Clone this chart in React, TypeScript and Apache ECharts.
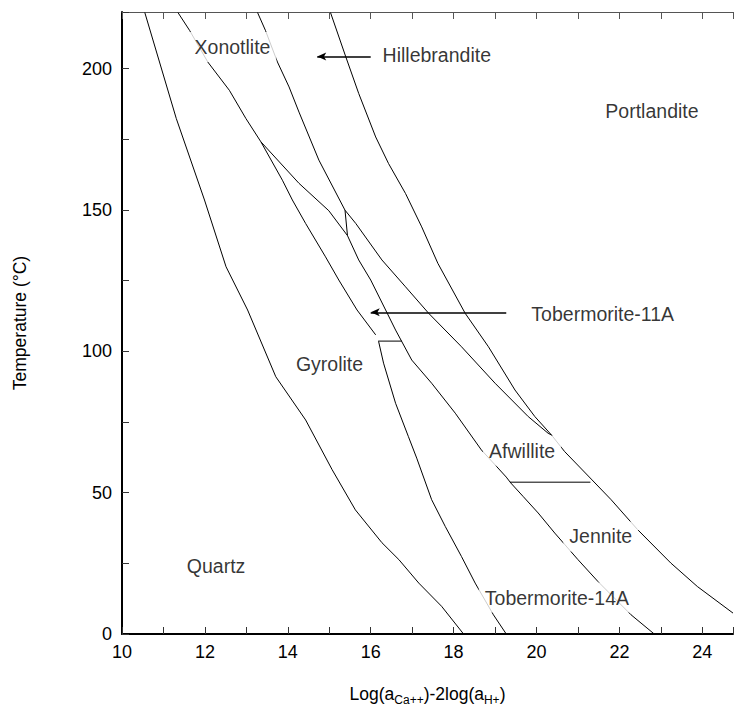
import React, { useEffect, useRef } from 'react';
import * as echarts from 'echarts';

// Axis ranges
const xMin = 10;
const xMax = 24.74;
const yMin = 0;
const yMax = 220;

// Phase boundaries [log(aCa++)-2log(aH+), T °C]
const quartzLine = [
  [10.55, 219.8], [11.31, 182.3], [11.99, 153.5], [12.51, 129.9], [13.03, 114.6],
  [13.71, 91.0], [14.43, 75.7], [15.07, 58.1], [15.63, 43.9], [16.27, 32.3],
  [16.68, 26.3], [17.16, 18.0], [17.71, 9.8], [18.24, 0],
];
const xonotliteGyroliteLine = [
  [11.35, 219.8], [11.63, 213.5], [12.07, 202.3], [12.59, 192.3], [12.99, 182.3],
  [13.35, 174.1], [14.27, 159.4], [14.99, 149.7], [15.44, 140.9],
];
const hillebranditeLine = [
  [13.27, 219.8], [13.46, 213.5], [13.75, 202.3], [14.03, 193.5], [14.27, 184.6],
  [14.75, 167.6], [15.38, 149.9],
];
const hillebranditeStep = [[15.38, 149.9], [15.44, 140.9]];
const afwilliteLine = [
  [15.44, 140.9], [15.71, 132.3], [16.0, 125.2], [16.36, 114.6], [16.6, 107.5],
  [16.99, 96.9], [17.47, 88.7], [18.04, 78.1], [18.67, 65.1], [19.04, 59.2],
  [19.27, 55.5], [19.38, 53.4], [19.68, 48.6], [20.04, 42.8], [20.44, 35.7],
  [21.0, 26.3], [21.48, 18.6], [22.28, 6.8], [22.84, 0],
];
const hillebranditeLowerLine = [
  [15.38, 149.9], [15.64, 145.2], [16.27, 132.3], [16.84, 122.8], [17.4, 113.4],
  [18.19, 101.6], [19.0, 88.7], [19.8, 76.9], [20.28, 71.0], [20.36, 70.4],
];
const tobermorite11Line = [
  [13.35, 174.1], [13.87, 160.5], [14.11, 153.5], [14.43, 145.2], [14.91, 133.4],
  [15.23, 125.2], [15.67, 114.6], [16.12, 105.8],
];
const gyroliteStep = [[16.18, 103.6], [16.75, 103.6]];
const tobermorite14Line = [
  [16.19, 103.5], [16.31, 95.8], [16.6, 81.6], [16.91, 69.8], [17.11, 62.2],
  [17.47, 47.5], [17.8, 38.0], [18.19, 27.4], [18.52, 18.0], [18.96, 6.8], [19.27, 0],
];
const portlanditeLine = [
  [15.03, 219.8], [15.4, 204.1], [15.71, 191.2], [16.12, 175.8], [16.43, 166.4],
  [16.84, 155.8], [17.23, 144.0], [17.62, 131.1], [18.28, 113.4], [18.84, 101.6],
  [19.48, 86.3], [19.96, 76.9], [20.36, 70.4], [20.68, 64.5], [21.32, 54.8],
  [21.8, 47.5], [22.44, 36.9], [23.24, 25.1], [23.88, 16.8], [24.74, 7.4],
];
const jenniteStep = [[19.36, 53.7], [21.3, 53.7]];

// Region labels
const regionNames = [
  'Xonotlite', 'Hillebrandite', 'Portlandite', 'Tobermorite-11A', 'Gyrolite',
  'Afwillite', 'Jennite', 'Quartz', 'Tobermorite-14A',
];
const regionX = [12.665, 17.594, 22.785, 21.597, 15.006, 19.652, 21.549, 12.269, 20.492];
const regionY = [207.6, 204.8, 184.9, 113.2, 95.5, 64.8, 34.5, 23.9, 12.9];

// Arrows [tail, tip]
const arrowHillebrandite = [[16.0, 204.3], [14.71, 204.3]];
const arrowTobermorite11 = [[19.27, 113.8], [16.0, 113.8]];

const FONT = '"Liberation Sans", Arial, Helvetica, sans-serif';

const boundaries = [
  quartzLine, xonotliteGyroliteLine, hillebranditeLine, hillebranditeStep, afwilliteLine,
  hillebranditeLowerLine, tobermorite11Line, gyroliteStep, tobermorite14Line,
  portlanditeLine, jenniteStep,
];

export default function App() {
  const ref = useRef<HTMLDivElement>(null);
  useEffect(() => {
    const chart = echarts.init(ref.current!, null, { renderer: 'svg' });
    const lineSeries = boundaries.map((d) => ({
      type: 'line',
      data: d,
      symbol: 'none',
      showSymbol: false,
      silent: true,
      z: 2,
      lineStyle: { color: '#000', width: 1 },
    }));
    const arrowSeries = {
      type: 'line',
      data: [],
      silent: true,
      z: 3,
      markLine: {
        silent: true,
        symbol: ['none', 'arrow'],
        symbolSize: [6, 9],
        label: { show: false },
        lineStyle: { type: 'solid', color: '#000', width: 1.5 },
        emphasis: { disabled: true },
        data: [
          [{ coord: arrowHillebrandite[0] }, { coord: arrowHillebrandite[1] }],
          [{ coord: arrowTobermorite11[0] }, { coord: arrowTobermorite11[1] }],
        ],
      },
    };
    const labelSeries = {
      type: 'scatter',
      symbolSize: 0,
      silent: true,
      z: 5,
      data: regionNames.map((n, i) => ({ name: n, value: [regionX[i], regionY[i]] })),
      label: {
        show: true,
        position: 'inside',
        formatter: '{b}',
        color: '#000',
        fontSize: 19.5,
        fontFamily: FONT,
        backgroundColor: '#fff',
        padding: [4, 6],
        lineHeight: 22,
      },
    };
    chart.setOption({
      animation: false,
      backgroundColor: '#fff',
      grid: { left: 122, right: 0, top: 12, bottom: 79, containLabel: false },
      xAxis: [
        {
          type: 'value',
          min: xMin,
          max: xMax,
          interval: 1,
          position: 'bottom',
          axisLine: { show: true, lineStyle: { color: '#000', width: 2 } },
          axisTick: { show: true, inside: true, length: 7, lineStyle: { color: '#333', width: 1 } },
          axisLabel: {
            formatter: (v: number) => (Math.abs(v % 2) < 1e-9 ? String(v) : ''),
            fontSize: 18,
            color: '#000',
            fontFamily: FONT,
            margin: 9,
          },
          splitLine: { show: false },
          name: 'Log(a{s|Ca++})-2log(a{s|H+})',
          nameLocation: 'middle',
          nameGap: 48,
          nameTextStyle: {
            fontSize: 17.5,
            color: '#000',
            fontFamily: FONT,
            lineHeight: 24,
            rich: {
              s: { fontSize: 12, color: '#000', fontFamily: FONT, verticalAlign: 'bottom', lineHeight: 24 },
            },
          },
        },
        {
          type: 'value',
          min: xMin,
          max: xMax,
          interval: 1,
          position: 'top',
          axisLine: { show: true, lineStyle: { color: '#555', width: 1 } },
          axisTick: { show: true, inside: true, length: 7, lineStyle: { color: '#555', width: 1 } },
          axisLabel: { show: false },
          splitLine: { show: false },
        },
      ],
      yAxis: {
        type: 'value',
        min: yMin,
        max: yMax,
        interval: 25,
        axisLine: { show: true, lineStyle: { color: '#000', width: 2 } },
        axisTick: { show: true, inside: true, length: 7, lineStyle: { color: '#333', width: 1 } },
        axisLabel: {
          formatter: (v: number) => (v % 50 === 0 ? String(v) : ''),
          fontSize: 18,
          color: '#000',
          fontFamily: FONT,
          margin: 10,
        },
        splitLine: { show: false },
        name: 'Temperature (°C)',
        nameLocation: 'middle',
        nameGap: 93,
        nameRotate: 90,
        nameTextStyle: { fontSize: 17.5, color: '#000', fontFamily: FONT },
      },
      series: [...lineSeries, arrowSeries, labelSeries],
    });
    return () => chart.dispose();
  }, []);
  return (
    <div
      ref={ref}
      style={{ position: 'absolute', left: 0, top: 0, width: 736, height: 713 }}
    />
  );
}
